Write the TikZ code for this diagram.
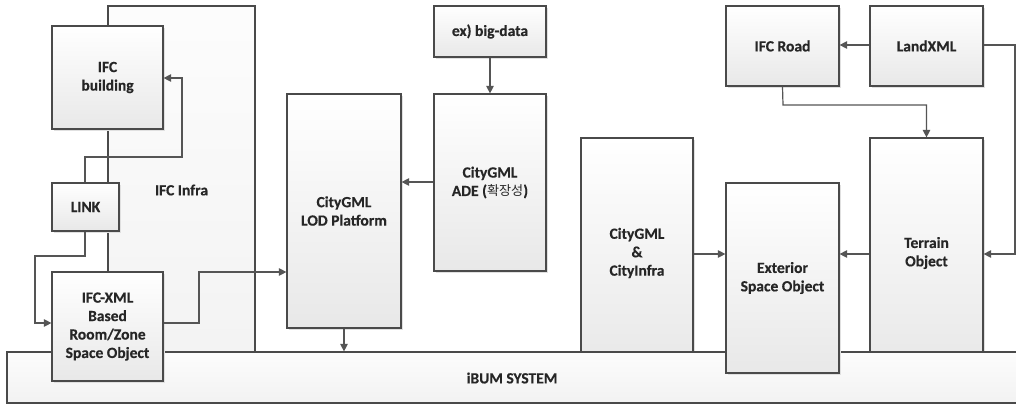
\documentclass[tikz,border=0pt]{standalone}
\usepackage{fontspec}
\setmainfont{Carlito}[BoldFont={Carlito Bold}, BoldFeatures={FakeBold=0.4}]
\newfontfamily\krfont{Noto Sans CJK KR}
\usetikzlibrary{arrows.meta,shadows}
\definecolor{edge}{HTML}{4A4A4A}
\definecolor{wire}{HTML}{555555}
\definecolor{ink}{HTML}{262626}
\tikzset{
  box/.style={draw=edge, line width=1.2bp, rectangle, inner sep=2bp,
    top color=white, bottom color=black!9, align=center, text=ink,
    font=\bfseries\fontsize{15.6}{18.5}\selectfont,
    drop shadow={shadow xshift=2bp, shadow yshift=-2bp, fill=black!12, opacity=1}},
  frame/.style={draw=edge, line width=1.2bp, rectangle,
    top color=black!1, bottom color=black!5},
  wirearrow/.style={draw=wire, line width=1.2bp, -{Triangle[length=7.5bp,width=7.5bp]}},
  lbl/.style={text=ink, font=\bfseries\fontsize{15.6}{18.5}\selectfont}
}
\begin{document}
\begin{tikzpicture}[x=1bp, y=-1bp]
\useasboundingbox (0,0) rectangle (1016,405);
\fill[white] (0,0) rectangle (1016,405);

% large background containers (their lower parts run behind the system bar)
\node[frame, minimum width=147bp, minimum height=368bp] (infra) at (181.5,190) {};
\node[lbl] (infralabel) at (181.5,190) {IFC Infra};
\node[box, minimum width=112bp, minimum height=230bp] (city) at (637,253) {CityGML\\\&\\CityInfra};
\node[box, minimum width=113bp, minimum height=230bp] (terrain) at (926.5,253) {Terrain\\Object};

% system bar
\node[frame, minimum width=1010bp, minimum height=51bp] (ibum) at (512,377.5) {};
\node[lbl] (ibumlabel) at (512,378) {iBUM SYSTEM};

% building side
\node[box, minimum width=111bp, minimum height=103bp] (bldg) at (107.5,77.5) {IFC\\building};
\node[box, minimum width=67bp, minimum height=48bp] (link) at (85.5,207) {LINK};
\node[box, minimum width=111bp, minimum height=109bp] (xml) at (107.5,326.5) {IFC-XML\\Based\\Room/Zone\\Space Object};

% CityGML side
\node[box, minimum width=114bp, minimum height=234bp] (lod) at (344,211) {CityGML\\LOD Platform};
\node[box, minimum width=112bp, minimum height=51bp] (bigdata) at (490,31.5) {ex) big-data};
\node[box, minimum width=112bp, minimum height=177bp] (ade) at (490,182.5) {CityGML\\ADE ({\krfont\mdseries\fontsize{13.2}{18.5}\selectfont 확장성})};

% road / terrain side
\node[box, minimum width=113bp, minimum height=80bp] (road) at (782.5,46) {IFC Road};
\node[box, minimum width=113bp, minimum height=80bp] (landxml) at (926.5,46) {LandXML};
\node[box, minimum width=113bp, minimum height=190bp] (ext) at (782.5,278) {Exterior\\Space Object};

% connectors
\draw[wirearrow] (link.north -| 85,0) -- (85,157) -- (182,157) -- (182,78) -- (bldg.east |- 0,78);
\draw[wirearrow] (link.south -| 85,0) -- (85,256) -- (35,256) -- (35,323) -- (xml.west |- 0,323);
\draw[wirearrow] (xml.east |- 0,323) -- (199,323) -- (199,272) -- (lod.west |- 0,272);
\draw[wirearrow] (ade.west |- 0,182) -- (lod.east |- 0,182);
\draw[wirearrow] (bigdata.south) -- (ade.north);
\draw[wirearrow] (lod.south) -- (lod.south |- ibum.north);
\draw[wirearrow] (landxml.west |- 0,45) -- (road.east |- 0,45);
\draw[wirearrow] (road.south) -- (783,105) -- (926.5,105) -- (terrain.north);
\draw[wirearrow] (landxml.east |- 0,45) -- (1015,45) -- (1015,254) -- (terrain.east |- 0,254);
\draw[wirearrow] (city.east |- 0,254) -- (ext.west |- 0,254);
\draw[wirearrow] (terrain.west |- 0,254) -- (ext.east |- 0,254);
\end{tikzpicture}
\end{document}
